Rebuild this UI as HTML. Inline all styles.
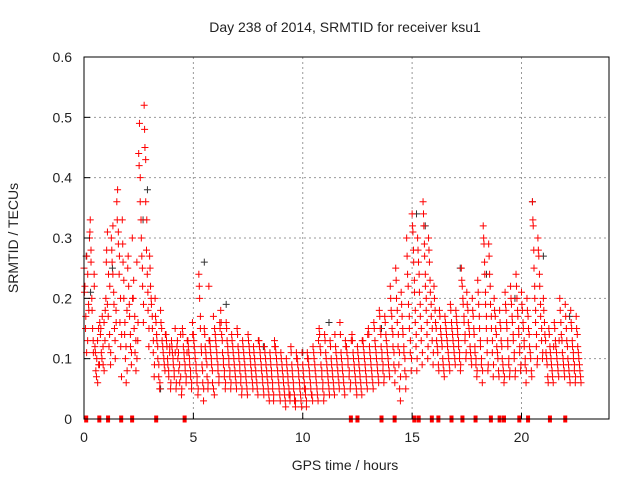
<!DOCTYPE html>
<html><head><meta charset="utf-8"><style>
body{margin:0;background:#fff;}
svg{display:block;font-family:"Liberation Sans",sans-serif;}
</style></head><body>
<svg id="chart" width="640" height="480">
<text x="345" y="32" font-size="14" text-anchor="middle" fill="#222">Day 238 of 2014, SRMTID for receiver ksu1</text>
<text x="345" y="470" font-size="14" text-anchor="middle" fill="#222">GPS time / hours</text>
<text x="18" y="238" font-size="14" text-anchor="middle" fill="#222" transform="rotate(-90 18 238)">SRMTID / TECUs</text>
<g id="grid"></g><g id="marks"></g>
<rect x="84" y="57" width="525" height="362" fill="none" stroke="#000" stroke-width="1"/>
<g id="axes"></g>
</svg>
<script>
const xTicks=[0,5,10,15,20];
const yTicks=[0,0.1,0.2,0.3,0.4,0.5,0.6];
const yTickLabels=["0","0.1","0.2","0.3","0.4","0.5","0.6"];
const binStart=[0,0.25,0.5,0.75,1,1.25,1.5,1.75,2,2.25,2.5,2.75,3,3.25,3.5,3.75,4,4.25,4.5,4.75,5,5.25,5.5,5.75,6,6.25,6.5,6.75,7,7.25,7.5,7.75,8,8.25,8.5,8.75,9,9.25,9.5,9.75,10,10.25,10.5,10.75,11,11.25,11.5,11.75,12,12.25,12.5,12.75,13,13.25,13.5,13.75,14,14.25,14.5,14.75,15,15.25,15.5,15.75,16,16.25,16.5,16.75,17,17.25,17.5,17.75,18,18.25,18.5,18.75,19,19.25,19.5,19.75,20,20.25,20.5,20.75,21,21.25,21.5,21.75,22,22.25,22.5];
const redValues=[
[.25,.22,.17,.27,.13,.19],[.30,.33,.26,.20,.15,.11,.24],[.12,.08,.10,.06,.15,.09],[.14,.11,.17,.09,.16,.13],
[.20,.28,.31,.17,.12,.22,.09],[.30,.26,.32,.21,.15,.10,.18],[.36,.38,.29,.24,.16,.12,.07],[.33,.26,.20,.14,.10,.06,.18],
[.25,.22,.17,.12,.09,.30],[.20,.15,.11,.08,.26,.13],[.44,.49,.40,.33,.27,.22,.16],[.52,.45,.36,.28,.24,.18,.12],
[.27,.22,.19,.15,.11,.07],[.20,.16,.13,.10,.07,.05],[.18,.15,.12,.10,.08],[.14,.12,.09,.07,.11,.05],
[.13,.11,.09,.07,.15,.05],[.12,.10,.08,.06,.14,.04],[.15,.12,.10,.08,.06,.11],[.13,.11,.09,.07,.05,.16],
[.14,.12,.10,.08,.06,.04],[.24,.20,.17,.12,.09,.06,.03],[.15,.12,.10,.07,.05,.22],[.13,.11,.09,.06,.17,.04],
[.14,.12,.10,.08,.06,.16],[.18,.14,.11,.09,.07,.05],[.16,.13,.11,.09,.07,.05],[.14,.12,.10,.08,.06],
[.15,.12,.10,.08,.06,.04],[.13,.11,.09,.07,.05],[.14,.12,.10,.08,.06],[.12,.10,.08,.06,.04],
[.13,.11,.09,.07,.05],[.12,.10,.08,.06,.04],[.11,.09,.07,.05,.03,.13],[.12,.10,.08,.06,.04],
[.11,.09,.07,.05,.03],[.10,.08,.06,.04,.03,.12],[.09,.07,.05,.03,.02,.11],[.10,.08,.06,.04,.02],
[.09,.07,.05,.04,.02,.11],[.10,.08,.06,.04,.03],[.11,.09,.07,.05,.03],[.15,.12,.09,.07,.05,.03],
[.14,.11,.09,.07,.05],[.13,.10,.08,.06,.04],[.12,.10,.08,.06,.16],[.11,.09,.07,.05,.13],
[.12,.10,.08,.06],[.14,.11,.09,.07,.05],[.12,.10,.08,.06,.04],[.13,.11,.09,.07,.05],
[.15,.12,.10,.08,.06],[.16,.13,.11,.09,.07],[.18,.15,.12,.10,.08,.06],[.17,.14,.12,.10,.08],
[.22,.18,.15,.12,.09,.06],[.25,.20,.16,.12,.09,.05,.03],[.21,.17,.14,.11,.08,.05],[.30,.24,.19,.15,.11,.08],
[.34,.31,.26,.21,.16,.12,.08],[.30,.26,.21,.17,.13,.09],[.36,.32,.27,.22,.18,.14,.10],[.30,.26,.21,.17,.13,.09],
[.22,.18,.15,.12,.09],[.18,.15,.13,.10,.08],[.17,.15,.13,.11,.09],[.19,.16,.14,.12,.10],
[.18,.16,.14,.12,.10,.08],[.25,.22,.19,.16,.13,.10],[.21,.18,.15,.12,.10],[.20,.17,.14,.11,.09,.07],
[.23,.19,.15,.12,.09,.06],[.32,.29,.24,.19,.15,.11,.08],[.29,.24,.19,.15,.11,.07],[.20,.17,.14,.11,.08],
[.18,.15,.12,.09,.06],[.21,.18,.15,.12,.09,.07],[.22,.19,.16,.13,.10,.07],[.24,.20,.17,.14,.11,.08],
[.21,.18,.15,.12,.09,.06],[.20,.17,.14,.11,.08],[.36,.32,.25,.20,.16,.12,.09],[.30,.27,.22,.17,.13,.10],
[.20,.16,.13,.10,.07],[.15,.12,.10,.08,.06],[.16,.13,.11,.09,.07],[.20,.16,.13,.10,.08],
[.19,.15,.12,.09,.07],[.18,.15,.12,.10,.08,.06],[.17,.14,.11,.09,.07]];
const redValues2=[
[.21,.15,.11,.24,.18],[.31,.28,.18,.13,.22],[.11,.07,.13,.09,.16],[.15,.10,.12,.08,.18],
[.26,.19,.24,.14,.11],[.28,.24,.19,.13,.16],[.33,.31,.27,.20,.14],[.29,.23,.16,.12,.08],
[.27,.19,.14,.11,.20],[.23,.17,.13,.10,.16],[.42,.36,.30,.25,.19],[.48,.43,.33,.21,.15],
[.25,.20,.17,.13,.09],[.17,.14,.12,.09,.06],[.16,.13,.11,.09,.14],[.13,.10,.08,.12,.06],
[.12,.10,.08,.11,.06],[.13,.11,.09,.07,.05],[.14,.11,.09,.07,.13],[.12,.10,.08,.06,.14],
[.13,.11,.09,.07,.05],[.22,.15,.11,.08,.05],[.14,.11,.09,.06,.13],[.12,.10,.08,.05,.15],
[.13,.11,.09,.07,.15],[.16,.13,.10,.08,.06],[.15,.12,.10,.08,.06],[.13,.11,.09,.07,.05],
[.14,.11,.09,.07,.05],[.12,.10,.08,.06,.04],[.13,.11,.09,.07,.05],[.11,.09,.07,.05,.13],
[.12,.10,.08,.06,.04],[.11,.09,.07,.05,.03],[.10,.08,.06,.04,.12],[.11,.09,.07,.05,.03],
[.10,.08,.06,.04,.02],[.09,.07,.05,.04,.11],[.08,.06,.04,.03,.10],[.09,.07,.05,.03,.11],
[.08,.06,.05,.03,.10],[.09,.07,.05,.04,.12],[.10,.08,.06,.04,.13],[.14,.11,.08,.06,.04],
[.13,.10,.08,.06,.04],[.12,.09,.07,.05,.14],[.11,.09,.07,.05,.14],[.10,.08,.06,.04,.12],
[.11,.09,.07,.05,.13],[.13,.10,.08,.06,.04],[.11,.09,.07,.05,.13],[.12,.10,.08,.06,.14],
[.14,.11,.09,.07,.05],[.15,.12,.10,.08,.06],[.17,.14,.11,.09,.07],[.16,.13,.11,.09,.07],
[.20,.17,.14,.11,.08],[.23,.18,.14,.11,.07],[.19,.15,.12,.10,.07],[.27,.22,.17,.13,.10],
[.32,.28,.23,.18,.14,.10],[.28,.24,.19,.15,.11],[.34,.29,.24,.20,.16,.12],[.28,.23,.19,.15,.11],
[.20,.16,.13,.11,.08],[.17,.14,.12,.09,.07],[.16,.14,.12,.10,.08],[.18,.15,.13,.11,.09],
[.17,.15,.13,.11,.09],[.23,.20,.17,.14,.11],[.19,.16,.14,.11,.09],[.18,.15,.12,.10,.08],
[.21,.17,.13,.10,.08],[.30,.26,.21,.17,.13,.09],[.27,.22,.17,.13,.09],[.18,.15,.12,.10,.07],
[.16,.13,.10,.08,.07],[.19,.16,.13,.10,.08],[.20,.17,.14,.11,.08],[.22,.18,.15,.12,.09],
[.19,.16,.13,.10,.08],[.18,.15,.12,.10,.07],[.33,.28,.22,.18,.14,.10],[.28,.24,.19,.15,.11],
[.18,.14,.11,.09,.06],[.14,.11,.09,.07,.12],[.15,.12,.10,.08,.13],[.18,.14,.11,.09,.07],
[.17,.13,.10,.08,.06],[.16,.13,.11,.09,.07],[.15,.12,.10,.08,.06]];
const blackTimes=[0.1,0.3,1.3,2.7,2.9,3.5,5.5,6.5,8.2,10.0,11.2,13.6,15.2,15.6,17.2,18.4,19.7,20.5,21.0,22.2];
const blackValues=[0.27,0.21,0.25,0.33,0.38,0.05,0.26,0.19,0.12,0.11,0.16,0.15,0.34,0.32,0.25,0.24,0.20,0.36,0.27,0.17];
const zeroTimes=[0.1,0.7,1.1,1.7,2.2,3.3,4.6,12.2,12.5,13.6,14.2,15.1,15.3,15.9,16.2,16.8,17.3,17.9,18.6,19.0,19.2,19.9,20.3,21.3,22.0];
const NS="http://www.w3.org/2000/svg";
const X0=84,X1=609,Y0=419,Y1=57,XMAX=24,YMAX=0.6;
function xs(t){return X0+(X1-X0)*t/XMAX;}
function ys(v){return Y0-(Y0-Y1)*v/YMAX;}
const grid=document.getElementById('grid'),marks=document.getElementById('marks'),axes=document.getElementById('axes');
function mk(tag,attrs,parent){const e=document.createElementNS(NS,tag);for(const k in attrs)e.setAttribute(k,attrs[k]);parent.appendChild(e);return e;}
xTicks.forEach(t=>{
  const x=xs(t);
  if(t>0){const g=mk('line',{x1:x,x2:x,y1:Y1,y2:Y0,stroke:'#999','stroke-dasharray':'2,3'},grid);
  
  }
  const tk=mk('line',{x1:x,x2:x,y1:Y0,y2:Y0-6,stroke:'#000'},axes);
  
  
  const lb=mk('text',{x:x,y:442,'font-size':14,'text-anchor':'middle',fill:'#222'},axes);lb.textContent=String(t);
  
  
});
yTicks.forEach((v,i)=>{
  const y=ys(v);
  if(v>0){const g=mk('line',{x1:X0,x2:X1,y1:y,y2:y,stroke:'#999','stroke-dasharray':'2,3'},grid);
  
  }
  const tk=mk('line',{x1:X0,x2:X0+6,y1:y,y2:y,stroke:'#000'},axes);
  
  
  const lb=mk('text',{x:72,y:y+5,'font-size':14,'text-anchor':'end',fill:'#222'},axes);lb.textContent=yTickLabels[i];
  
  
});
function plus(t,v,color,name){
  const x=xs(t),y=ys(v);
  const p=mk('path',{d:`M${x-3.5},${y}H${x+3.5}M${x},${y-3.5}V${y+3.5}`,stroke:color,'stroke-width':1,fill:'none'},marks);
  
  
}
blackTimes.forEach((t,i)=>plus(t,blackValues[i],'#333','black-point'));
binStart.forEach((t,i)=>{
  const vals=redValues[i];
  vals.forEach((v,k)=>plus(t+k*0.25/vals.length,v,'#ff0000','red-point'));
  const v2=redValues2[i];
  v2.forEach((v,k)=>plus(t+0.02+k*0.25/v2.length,v,'#ff0000','red-point'));
});
zeroTimes.forEach(t=>{
  const r=mk('rect',{x:xs(t)-2,y:Y0-3.5,width:4,height:7,fill:'#ff0000'},marks);
  
  
});
</script>
</body></html>
